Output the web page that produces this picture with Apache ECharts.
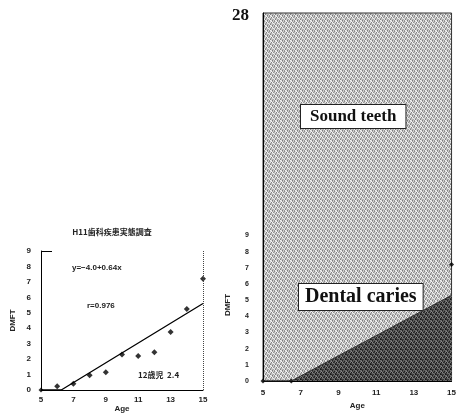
<!DOCTYPE html>
<html><head><meta charset="utf-8">
<script src="https://cdn.jsdelivr.net/npm/echarts@6/dist/echarts.min.js"></script>
<style>html,body{margin:0;padding:0;background:#fff}#c{width:459px;height:415px}</style>
</head><body><div id="c"></div>
<script>
// ---- data ----
var ages = [6, 7, 8, 9, 10, 11, 12, 13, 14, 15];
var dmft = [0.25, 0.4, 0.95, 1.15, 2.3, 2.2, 2.45, 3.75, 5.25, 7.2];
var trendX = [5, 6.25, 15];
var trendY = [0, 0, 5.6];
var cariesX = [5, 6.5, 15];
var cariesY = [0, 0, 5.3];
var xTicks = ['5', '7', '9', '11', '13', '15'];
var yTicks = ['0', '1', '2', '3', '4', '5', '6', '7', '8', '9'];
var topLabel = '28';
var title = 'H11歯科疾患実態調査';
var eqText = 'y=−4.0+0.64x';
var rText = 'r=0.976';
var age12Text = '12歳児  2.4';

function pair(xs, ys) { return xs.map(function (x, i) { return [x, ys[i]]; }); }

function makePattern(vals) {
  var n = vals.length, c = document.createElement('canvas');
  c.width = n; c.height = n;
  var ctx = c.getContext('2d');
  for (var i = 0; i < n; i++) for (var j = 0; j < n; j++) {
    var v = vals[(i * 3 + j * 5) % n][(i + j * 2) % n];
    ctx.fillStyle = 'rgb(' + v + ',' + v + ',' + v + ')';
    ctx.fillRect(i, j, 1, 1);
  }
  return { image: c, repeat: 'repeat' };
}
var lightPat = makePattern([[240,160,210,130,230],[180,245,120,215,170],[210,140,235,185,150],[130,220,175,248,200],[200,170,150,210,235]]);
var darkPat = makePattern([[110,40,90,20,120],[60,130,30,100,70],[95,35,115,55,80],[25,105,65,135,45],[85,55,40,95,110]]);

var sans = 'Liberation Sans, Arial, sans-serif';
var serif = 'Liberation Serif, Times New Roman, serif';

var chart = echarts.init(document.getElementById('c'), null, { renderer: 'canvas' });
var option = {
  animation: false,
  backgroundColor: '#fff',
  title: {
    text: title, left: 107, top: 223, textAlign: 'center',
    textStyle: { fontSize: 8, fontWeight: 'bold', color: '#222', fontFamily: 'Noto Sans CJK JP' }
  },
  grid: [
    { left: 41, right: 256, top: 251, bottom: 25, show: false },
    { left: 263, right: 2, top: 13, bottom: 30, show: true, backgroundColor: lightPat, borderColor: '#333', borderWidth: 1 }
  ],
  xAxis: [
    { gridIndex: 0, type: 'value', min: 5, max: 15, interval: 2,
      name: 'Age', nameLocation: 'middle', nameGap: 15,
      nameTextStyle: { fontSize: 8, fontWeight: 'bold', color: '#222', fontFamily: sans },
      axisLine: { lineStyle: { color: '#000', width: 1 } }, axisTick: { show: false },
      splitLine: { show: false },
      axisLabel: { fontSize: 8, fontWeight: 'bold', color: '#222', fontFamily: sans, margin: 6,
        formatter: function (v) { var i = (v - 5) / 2; return xTicks[i] || ''; } } },
    { gridIndex: 1, type: 'value', min: 5, max: 15, interval: 2,
      name: 'Age', nameLocation: 'middle', nameGap: 21,
      nameTextStyle: { fontSize: 8, fontWeight: 'bold', color: '#222', fontFamily: sans },
      axisLine: { lineStyle: { color: '#000', width: 1 } }, axisTick: { show: false },
      splitLine: { show: false },
      axisLabel: { fontSize: 8, fontWeight: 'bold', color: '#222', fontFamily: sans, margin: 8,
        formatter: function (v) { var i = (v - 5) / 2; return xTicks[i] || ''; } } }
  ],
  yAxis: [
    { gridIndex: 0, type: 'value', min: 0, max: 9, interval: 1,
      name: 'DMFT', nameLocation: 'middle', nameGap: 24, nameRotate: 90,
      nameTextStyle: { fontSize: 8, fontWeight: 'bold', color: '#222', fontFamily: sans },
      axisLine: { show: true, lineStyle: { color: '#000', width: 1 } }, axisTick: { show: false },
      splitLine: { show: false },
      axisLabel: { fontSize: 8, fontWeight: 'bold', color: '#222', fontFamily: sans, margin: 10,
        formatter: function (v) { return yTicks[v] || ''; } } },
    { gridIndex: 1, type: 'value', min: 0, max: 22.75, interval: 0.25,
      axisLine: { show: true, lineStyle: { color: '#000', width: 1 } }, axisTick: { show: false },
      splitLine: { show: false },
      axisLabel: { fontSize: 7, fontWeight: 'bold', color: '#222', fontFamily: sans, margin: 14,
        rich: { big: { fontSize: 17, fontWeight: 'bold', fontFamily: serif, color: '#111', padding: [6, 0, 0, 0] } },
        formatter: function (v) {
          if (Math.abs(v - 22.75) < 1e-6) return '{big|' + topLabel + '}';
          if (Math.abs(v - Math.round(v)) < 1e-6 && v <= 9) return yTicks[Math.round(v)];
          return '';
        } } }
  ],
  series: [
    { type: 'line', xAxisIndex: 0, yAxisIndex: 0, data: pair(trendX, trendY),
      showSymbol: false, lineStyle: { color: '#000', width: 1.3 }, silent: true,
      markLine: { silent: true, symbol: 'none', label: { show: false },
        lineStyle: { color: '#444', type: 'dotted', width: 1 },
        data: [[{ coord: [15, 0] }, { coord: [15, 9] }]] } },
    { type: 'scatter', xAxisIndex: 0, yAxisIndex: 0, data: pair(ages, dmft),
      symbol: 'diamond', symbolSize: 6, itemStyle: { color: '#000' } },
    { type: 'scatter', xAxisIndex: 0, yAxisIndex: 0, data: [[5, 0]],
      symbol: 'diamond', symbolSize: 5, itemStyle: { color: '#000' } },
    { type: 'line', xAxisIndex: 1, yAxisIndex: 1, data: pair(cariesX, cariesY),
      showSymbol: false, lineStyle: { color: '#333', width: 1 },
      areaStyle: { color: darkPat, opacity: 1 } },
    { type: 'scatter', xAxisIndex: 1, yAxisIndex: 1, data: [[5, 0], [6.5, 0], [15, 7.2]],
      symbol: 'diamond', symbolSize: 5, itemStyle: { color: '#000' } }
  ],
  graphic: [
    { type: 'line', shape: { x1: 41, y1: 251.5, x2: 52, y2: 251.5 }, style: { stroke: '#000', lineWidth: 1 } },
    { type: 'text', left: 72, top: 264, style: { text: eqText, font: 'bold 8px ' + sans, fill: '#222' } },
    { type: 'text', left: 87, top: 302, style: { text: rText, font: 'bold 8px ' + sans, fill: '#222' } },
    { type: 'text', left: 138, top: 371, style: { text: age12Text, font: 'bold 8px Noto Sans CJK JP', fill: '#222' } },
    { type: 'text', x: 228, y: 305, rotation: Math.PI / 2,
      style: { text: 'DMFT', font: 'bold 8px ' + sans, fill: '#222', align: 'center', verticalAlign: 'middle' } },
    { type: 'text', left: 300, top: 104, style: {
        text: 'Sound teeth', font: 'bold 17px ' + serif, fill: '#111',
        backgroundColor: '#fff', borderColor: '#222', borderWidth: 1, padding: [3, 9, 3, 9] } },
    { type: 'text', left: 298, top: 283, style: {
        text: 'Dental caries', font: 'bold 20px ' + serif, fill: '#111',
        backgroundColor: '#fff', borderColor: '#222', borderWidth: 1, padding: [3, 6, 3, 6] } }
  ]
};
chart.setOption(option);
</script></body></html>
